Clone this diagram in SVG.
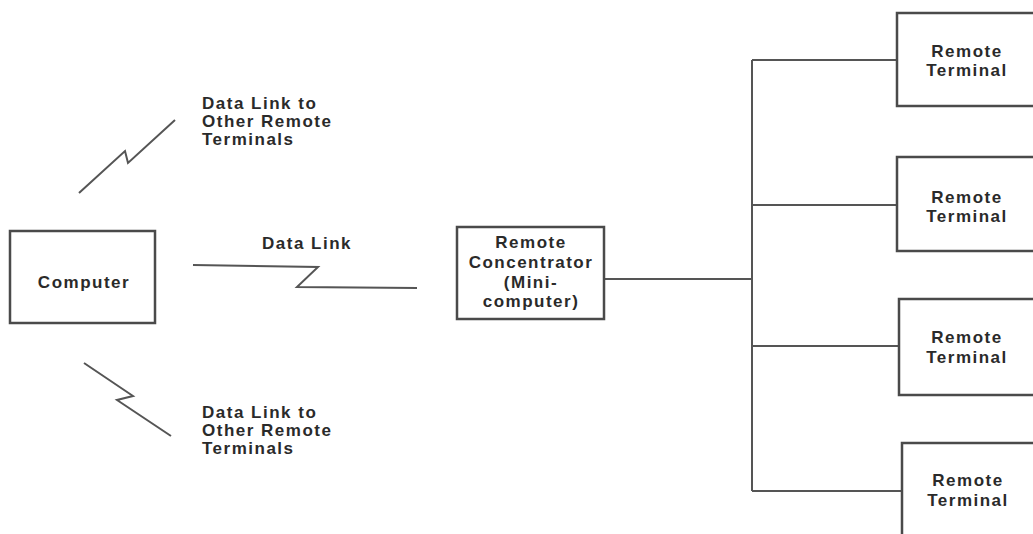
<svg xmlns="http://www.w3.org/2000/svg" width="1033" height="534" viewBox="0 0 1033 534">
<style>
.box{fill:#fff;stroke:#4a4a4a;stroke-width:2.5}
.ln{fill:none;stroke:#555;stroke-width:2;stroke-linejoin:miter}
text{font-family:"Liberation Sans",Arial,sans-serif;font-weight:bold;font-size:17px;fill:#2a2a2a;letter-spacing:1.5px}
.c{text-anchor:middle}
</style>
<rect width="1033" height="534" fill="#fff"/>
<g id="connectors">
<path class="ln" d="M193,265 L318,267 L297,287 L417,288"/>
<path class="ln" d="M79,193 L125,151 L128,163 L175,120"/>
<path class="ln" d="M84,363 L133,396 L117,400 L171,436"/>
<path class="ln" d="M604,279 L752,279"/>
<path class="ln" d="M752,60 L752,491"/>
<path class="ln" d="M752,60 L897,60 M752,205 L897,205 M752,346 L899,346 M752,491 L902,491"/>
</g>
<g id="computer">
<rect class="box" x="10" y="231" width="145" height="92"/>
<text class="c" x="84" y="288">Computer</text>
</g>
<g id="data-link-label">
<text class="c" x="307" y="249">Data Link</text>
</g>
<g id="data-link-top">
<text x="202" y="109">Data Link to</text>
<text x="202" y="127">Other Remote</text>
<text x="202" y="145">Terminals</text>
</g>
<g id="data-link-bottom">
<text x="202" y="418">Data Link to</text>
<text x="202" y="436">Other Remote</text>
<text x="202" y="454">Terminals</text>
</g>
<g id="concentrator">
<rect class="box" x="457" y="227" width="147" height="92"/>
<text class="c" x="531" y="248">Remote</text>
<text class="c" x="531" y="268">Concentrator</text>
<text class="c" x="531" y="288">(Mini-</text>
<text class="c" x="531" y="307">computer)</text>
</g>
<g id="terminal1">
<rect class="box" x="897" y="13" width="150" height="93"/>
<text class="c" x="967" y="57">Remote</text>
<text class="c" x="967" y="76">Terminal</text>
</g>
<g id="terminal2">
<rect class="box" x="897" y="157" width="150" height="94"/>
<text class="c" x="967" y="203">Remote</text>
<text class="c" x="967" y="222">Terminal</text>
</g>
<g id="terminal3">
<rect class="box" x="899" y="299" width="150" height="96"/>
<text class="c" x="967" y="343">Remote</text>
<text class="c" x="967" y="363">Terminal</text>
</g>
<g id="terminal4">
<rect class="box" x="902" y="443" width="150" height="110"/>
<text class="c" x="968" y="486">Remote</text>
<text class="c" x="968" y="506">Terminal</text>
</g>
</svg>
